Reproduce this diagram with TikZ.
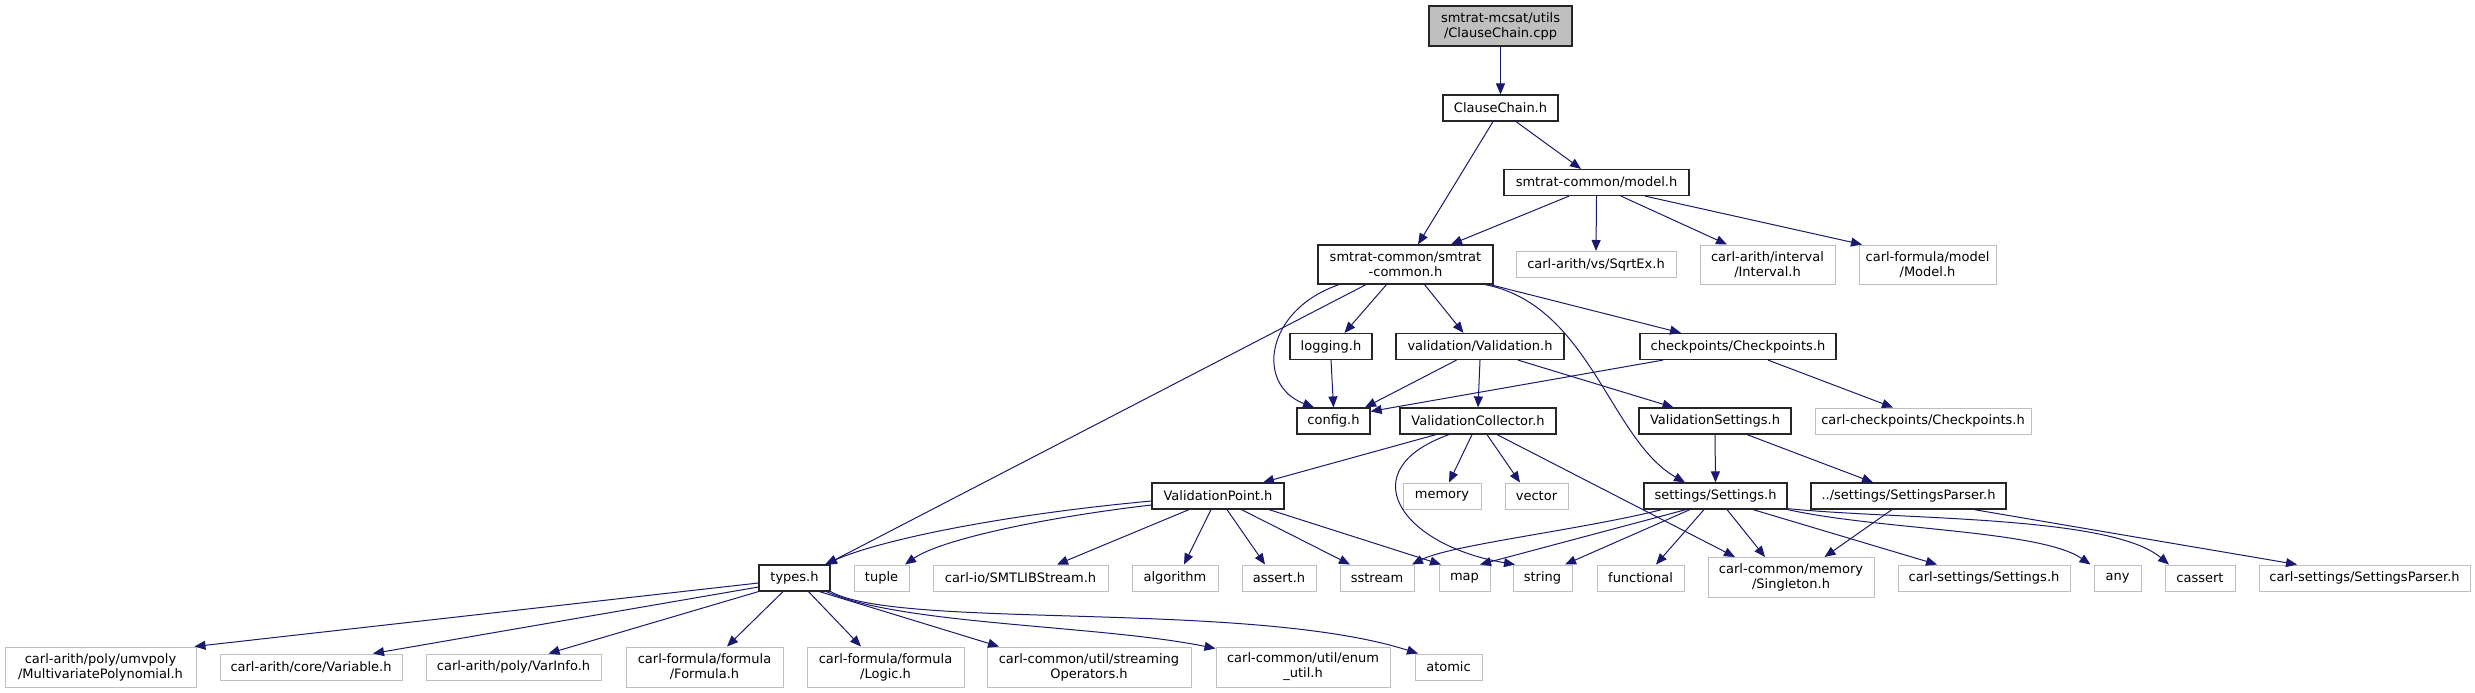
\documentclass[tikz,border=0pt]{standalone}
\usepackage{fontspec}
\setmainfont{DejaVu Sans}
\usepackage{tikz}
\usetikzlibrary{arrows.meta}
\definecolor{azul}{HTML}{191970}
\tikzset{
  archivo/.style={draw=black!85,line width=1.2pt,minimum height=26pt,inner sep=1pt,align=center,font=\fontsize{13}{15}\selectfont},
  externo/.style={archivo,draw=black!25,line width=1pt},
  raiz/.style={archivo,fill=black!25},
  incl/.style={-{Triangle[length=11pt,width=9pt]},azul,line width=1pt}
}

\begin{document}
\begin{tikzpicture}[x=1pt,y=-1pt]
\useasboundingbox (0,0) rectangle (2475,693);
% cabecera
\node[raiz,minimum width=143pt,minimum height=40pt] (cpp) at (1500.5,26) {smtrat-mcsat/utils\\/ClauseChain.cpp};
\node[archivo,minimum width=115pt] (cch) at (1500.5,108) {ClauseChain.h};
\node[archivo,minimum width=185pt] (model) at (1596.5,182.5) {smtrat-common/model.h};
% nivel smtrat-common
\node[archivo,minimum width=175pt,minimum height=39pt] (smc) at (1405.5,264.5) {smtrat-common/smtrat\\-common.h};
\node[externo,minimum width=160pt] (sqrt) at (1596,264.5) {carl-arith/vs/SqrtEx.h};
\node[externo,minimum width=135pt,minimum height=39pt] (interval) at (1767.5,264.5) {carl-arith/interval\\/Interval.h};
\node[externo,minimum width=137pt,minimum height=39pt] (cfmodel) at (1927.5,264.5) {carl-formula/model\\/Model.h};
\node[archivo,minimum width=82pt] (logging) at (1331,346.5) {logging.h};
\node[archivo,minimum width=168pt] (validation) at (1480,346.5) {validation/Validation.h};
\node[archivo,minimum width=196pt] (checkpoints) at (1738,346.5) {checkpoints/Checkpoints.h};
\node[archivo,minimum width=73pt] (config) at (1333.5,421) {config.h};
\node[archivo,minimum width=156pt] (vcollector) at (1478,421) {ValidationCollector.h};
\node[archivo,minimum width=152pt] (vsettings) at (1715,421) {ValidationSettings.h};
\node[externo,minimum width=216pt] (carlcp) at (1923,421) {carl-checkpoints/Checkpoints.h};
\node[archivo,minimum width=132pt] (vpoint) at (1218,496) {ValidationPoint.h};
\node[externo,minimum width=78pt] (memory) at (1442,496) {memory};
\node[externo,minimum width=63pt] (vector) at (1536.5,496) {vector};
\node[archivo,minimum width=143pt] (settings) at (1715.5,496) {settings/Settings.h};
\node[archivo,minimum width=195pt] (parser) at (1908.5,496) {../settings/SettingsParser.h};
% fila de types.h
\node[archivo,minimum width=71pt] (types) at (794.5,578) {types.h};
\node[externo,minimum width=55pt] (tuple) at (881.5,578) {tuple};
\node[externo,minimum width=175pt] (smtlib) at (1020.5,578) {carl-io/SMTLIBStream.h};
\node[externo,minimum width=86pt] (algorithm) at (1175,578) {algorithm};
\node[externo,minimum width=74pt] (assert) at (1279,578) {assert.h};
\node[externo,minimum width=74pt] (sstream) at (1377,578) {sstream};
\node[externo,minimum width=51pt] (map) at (1464.5,578) {map};
\node[externo,minimum width=59pt] (string) at (1542.5,578) {string};
\node[externo,minimum width=87pt] (functional) at (1640.5,578) {functional};
\node[externo,minimum width=166pt,minimum height=40pt] (singleton) at (1791,577.5) {carl-common/memory\\/Singleton.h};
\node[externo,minimum width=172pt] (csettings) at (1984,578) {carl-settings/Settings.h};
\node[externo,minimum width=47pt] (any) at (2117.5,578) {any};
\node[externo,minimum width=70pt] (cassert) at (2200,578) {cassert};
\node[externo,minimum width=211pt] (csparser) at (2364.5,578) {carl-settings/SettingsParser.h};
% fila inferior
\node[externo,minimum width=191pt,minimum height=40pt] (multipoly) at (100.5,667) {carl-arith/poly/umvpoly\\/MultivariatePolynomial.h};
\node[externo,minimum width=182pt] (variable) at (311,667) {carl-arith/core/Variable.h};
\node[externo,minimum width=175pt] (varinfo) at (513.5,667) {carl-arith/poly/VarInfo.h};
\node[externo,minimum width=157pt,minimum height=40pt] (formula) at (704.5,667) {carl-formula/formula\\/Formula.h};
\node[externo,minimum width=157pt,minimum height=40pt] (logic) at (885.5,667) {carl-formula/formula\\/Logic.h};
\node[externo,minimum width=204pt,minimum height=40pt] (streamops) at (1089,667) {carl-common/util/streaming\\Operators.h};
\node[externo,minimum width=174pt,minimum height=40pt] (enumutil) at (1303,667) {carl-common/util/enum\\\_util.h};
\node[externo,minimum width=67pt] (atomic) at (1448.5,667) {atomic};
% inclusiones rectas
\foreach \a/\sa/\b/\sb in {cpp/0/cch/0, cch/-7.5/smc/12.5, cch/15.5/model/-15.5,
  model/-27.5/smc/45.5, model/0/sqrt/0, model/24.5/interval/-40.5, model/48.5/cfmodel/-65.5,
  smc/-39.5/types/31.5, smc/-19/logging/13.5, smc/19/validation/-16.5, smc/84.5/checkpoints/-57,
  logging/0/config/0, validation/-23.5/config/31.5, validation/0/vcollector/0,
  validation/38/vsettings/-41.5, checkpoints/30/carlcp/-30,
  vcollector/-42/vpoint/45, vcollector/-6/memory/7, vcollector/9/vector/-16.5,
  vcollector/19/singleton/-56, vsettings/0/settings/0, vsettings/32/parser/-35.5,
  vpoint/-29/smtlib/36.5, vpoint/-7/algorithm/9, vpoint/9/assert/-14,
  vpoint/23.5/sstream/-27, vpoint/51/map/-23.5,
  settings/-29.5/map/15.5, settings/-25.5/string/22.5, settings/-11.5/functional/15.5,
  settings/11.5/singleton/-26, settings/37.5/csettings/-47,
  parser/-16.5/singleton/33.5, parser/65.5/csparser/-67.5,
  types/-11.5/formula/22.5, types/14/logic/-24.5, types/25/streamops/-90}{
  \draw[incl] ([xshift=\sa pt]\a.south) -- ([xshift=\sb pt]\b.north);}
\draw[incl] ([xshift=-75pt]checkpoints.south) -- ([yshift=-4pt]config.north east);
\draw[incl] ([yshift=-5pt]types.west) -- ([xshift=-2pt]multipoly.north east);
\draw[incl] ([yshift=-9pt]types.west) -- ([xshift=62pt]variable.north);
\draw[incl] (types.south west) -- ([xshift=35pt]varinfo.north);
% inclusiones curvas
\draw[incl] ([xshift=-66.5pt]smc.south) .. controls (1265,310) and (1255,385) .. ([xshift=-19.5pt]config.north);
\draw[incl] ([xshift=79.5pt]smc.south) .. controls (1590,305) and (1610,440) .. ([xshift=-30.5pt]settings.north);
\draw[incl] ([xshift=-29pt]vcollector.south) .. controls (1350,470) and (1400,545) .. ([xshift=-27.5pt]string.north);
\draw[incl] ([yshift=-5pt]vpoint.west) .. controls (1000,515) and (880,540) .. ([xshift=30.5pt]types.north);
\draw[incl] ([yshift=-9pt]vpoint.west) .. controls (1040,518) and (940,540) .. ([xshift=23.5pt]tuple.north);
\draw[incl] ([xshift=-53.5pt]settings.south) .. controls (1580,530) and (1450,545) .. ([xshift=35pt]sstream.north);
\draw[incl] (settings.south east) .. controls (1880,530) and (2040,530) .. ([xshift=-3pt]any.north west);
\draw[incl] ([yshift=1pt]settings.south east) .. controls (1900,520) and (2110,515) .. ([xshift=-31pt]cassert.north);
\draw[incl] ([xshift=32pt]types.south) .. controls (900,625) and (1100,625) .. ([yshift=-2pt]enumutil.north west);
\draw[incl] (types.south east) .. controls (900,630) and (1250,600) .. ([xshift=-30.5pt]atomic.north);
\end{tikzpicture}
\end{document}
